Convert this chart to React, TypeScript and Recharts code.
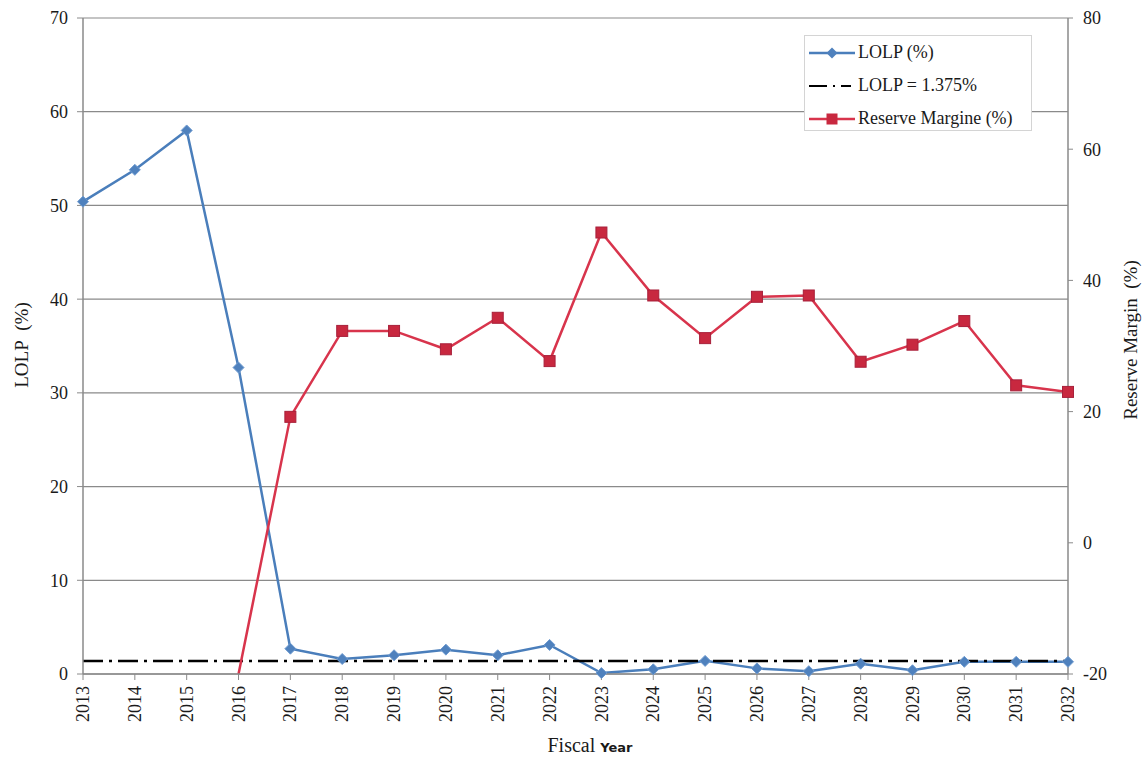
import React from 'react';
import { LineChart, Line, XAxis, YAxis, CartesianGrid, Legend } from 'recharts';

const years = ['2013', '2014', '2015', '2016', '2017', '2018', '2019', '2020', '2021', '2022', '2023', '2024', '2025', '2026', '2027', '2028', '2029', '2030', '2031', '2032'];
const lolp = [50.4, 53.8, 58.0, 32.7, 2.7, 1.6, 2.0, 2.6, 2.0, 3.1, 0.1, 0.5, 1.4, 0.6, 0.3, 1.1, 0.4, 1.3, 1.3, 1.3];
const reserveMargin: (number | null)[] = [null, null, null, -20, 19.2, 32.3, 32.3, 29.5, 34.3, 27.7, 47.3, 37.7, 31.2, 37.5, 37.7, 27.6, 30.2, 33.8, 24.0, 23.0];
const lolpThreshold = 1.375;
const leftTicks = [0, 10, 20, 30, 40, 50, 60, 70];
const rightTicks = [-20, 0, 20, 40, 60, 80];

const data = years.map((y, i) => ({ year: y, lolp: lolp[i], rm: reserveMargin[i], thr: lolpThreshold }));

const SERIF = '"Liberation Serif", "Times New Roman", serif';
const BLUE = '#4A7EBB';
const BLUE_MK = '#4F81BD';
const RED = '#D8344C';
const RED_MK = '#C8283F';
const GRID = '#8a8a8a';
const TXT = '#1a1a1a';

const Diamond = (props: any) => {
  const { cx, cy, index } = props;
  if (cx == null || cy == null) return <g key={`d${index}`} />;
  const s = 5.5;
  return (
    <path
      key={`d${index}`}
      d={`M${cx},${cy - s} L${cx + s},${cy} L${cx},${cy + s} L${cx - s},${cy} Z`}
      fill={BLUE_MK}
      stroke="#6f9bd0"
      strokeWidth={1}
    />
  );
};

const Square = (props: any) => {
  const { cx, cy, index, value } = props;
  if (cx == null || cy == null || value == null || value <= -20) return <g key={`s${index}`} />;
  const s = 5.5;
  return <rect key={`s${index}`} x={cx - s} y={cy - s} width={2 * s} height={2 * s} fill={RED_MK} stroke="#a8203a" strokeWidth={1} />;
};

const XTick = (props: any) => {
  const { x, y, payload } = props;
  const yy = y + 4;
  return (
    <text x={x} y={yy} transform={`rotate(-90 ${x} ${yy})`} textAnchor="end" dy="0.34em" fontSize={18} fill={TXT} fontFamily={SERIF}>
      {payload.value}
    </text>
  );
};

const LegendBox = () => {
  const rowStyle: React.CSSProperties = { display: 'flex', alignItems: 'center', height: 33 };
  const textStyle: React.CSSProperties = { marginLeft: 3, whiteSpace: 'nowrap' };
  return (
    <div
      style={{
        width: 228,
        height: 96,
        background: '#fff',
        border: '1px solid #d4d4d4',
        boxSizing: 'border-box',
        fontFamily: SERIF,
        fontSize: 18,
        color: TXT,
        paddingLeft: 4,
        paddingTop: 0,
      }}
    >
      <div style={rowStyle}>
        <svg width={46} height={20}>
          <line x1={0} y1={10} x2={46} y2={10} stroke={BLUE} strokeWidth={2.5} />
          <path d="M23,4.5 L28.5,10 L23,15.5 L17.5,10 Z" fill={BLUE_MK} />
        </svg>
        <span style={textStyle}>LOLP (%)</span>
      </div>
      <div style={rowStyle}>
        <svg width={46} height={20}>
          <line x1={0} y1={10} x2={46} y2={10} stroke="#000" strokeWidth={2} strokeDasharray="18 6 2 6 10 4" />
        </svg>
        <span style={textStyle}>LOLP = 1.375%</span>
      </div>
      <div style={rowStyle}>
        <svg width={46} height={20}>
          <line x1={0} y1={10} x2={46} y2={10} stroke={RED} strokeWidth={2.5} />
          <rect x={17.5} y={4.5} width={11} height={11} fill={RED_MK} />
        </svg>
        <span style={textStyle}>Reserve Margine (%)</span>
      </div>
    </div>
  );
};

export default function App() {
  return (
    <div style={{ position: 'absolute', left: 0, top: 0, width: 1148, height: 760, background: '#fff' }}>
      <style>{`body{margin:0;background:#fff;}`}</style>
      <LineChart width={1148} height={760} data={data} margin={{ top: 18, right: 0, bottom: 0, left: 0 }}>
        <CartesianGrid yAxisId="left" vertical={false} stroke={GRID} strokeWidth={1.2} />
        <XAxis
          dataKey="year"
          height={86}
          interval={0}
          tick={<XTick />}
          tickSize={6}
          tickMargin={2}
          axisLine={{ stroke: GRID, strokeWidth: 1.5 }}
          tickLine={{ stroke: GRID }}
          label={{
            content: () => (
              <text x={590} y={752} textAnchor="middle" fill={TXT}>
                <tspan fontFamily={SERIF} fontSize={20}>Fiscal </tspan>
                <tspan fontFamily="DejaVu Sans, sans-serif" fontWeight="bold" fontSize={13}>Year</tspan>
              </text>
            ),
          }}
        />
        <YAxis
          yAxisId="left"
          width={83}
          domain={[0, 70]}
          ticks={leftTicks}
          interval={0}
          tickSize={6}
          tickMargin={9}
          tick={{ fontSize: 18, fill: TXT, fontFamily: SERIF }}
          axisLine={{ stroke: GRID, strokeWidth: 1.5 }}
          tickLine={{ stroke: GRID }}
          label={{
            content: () => (
              <text x={28} y={345} transform="rotate(-90 28 345)" textAnchor="middle" fontSize={19} fill={TXT} fontFamily={SERIF}>
                {'LOLP\u00a0\u00a0(%)'}
              </text>
            ),
          }}
        />
        <YAxis
          yAxisId="right"
          orientation="right"
          width={80}
          domain={[-20, 80]}
          ticks={rightTicks}
          interval={0}
          tickSize={5}
          tickMargin={10}
          tick={{ fontSize: 18, fill: TXT, fontFamily: SERIF }}
          axisLine={{ stroke: GRID, strokeWidth: 1.5 }}
          tickLine={{ stroke: GRID }}
          label={{
            content: () => (
              <text x={1137} y={340} transform="rotate(-90 1137 340)" textAnchor="middle" fontSize={19} fill={TXT} fontFamily={SERIF}>
                {'Reserve Margin\u00a0\u00a0(%)'}
              </text>
            ),
          }}
        />
        <Legend
          layout="vertical"
          align="center"
          verticalAlign="middle"
          content={() => <LegendBox />}
          wrapperStyle={{ position: 'absolute', left: 804, top: 35, width: 228, height: 96 }}
        />
        <Line
          yAxisId="left"
          type="linear"
          dataKey="lolp"
          stroke={BLUE}
          strokeWidth={2.5}
          dot={Diamond}
          activeDot={false}
          isAnimationActive={false}
        />
        <Line
          yAxisId="left"
          type="linear"
          dataKey="thr"
          stroke="#000"
          strokeWidth={2.5}
          strokeDasharray="20 6 3 6"
          dot={false}
          activeDot={false}
          isAnimationActive={false}
        />
        <Line
          yAxisId="right"
          type="linear"
          dataKey="rm"
          stroke={RED}
          strokeWidth={2.5}
          dot={Square}
          activeDot={false}
          connectNulls={false}
          isAnimationActive={false}
        />
      </LineChart>
    </div>
  );
}
